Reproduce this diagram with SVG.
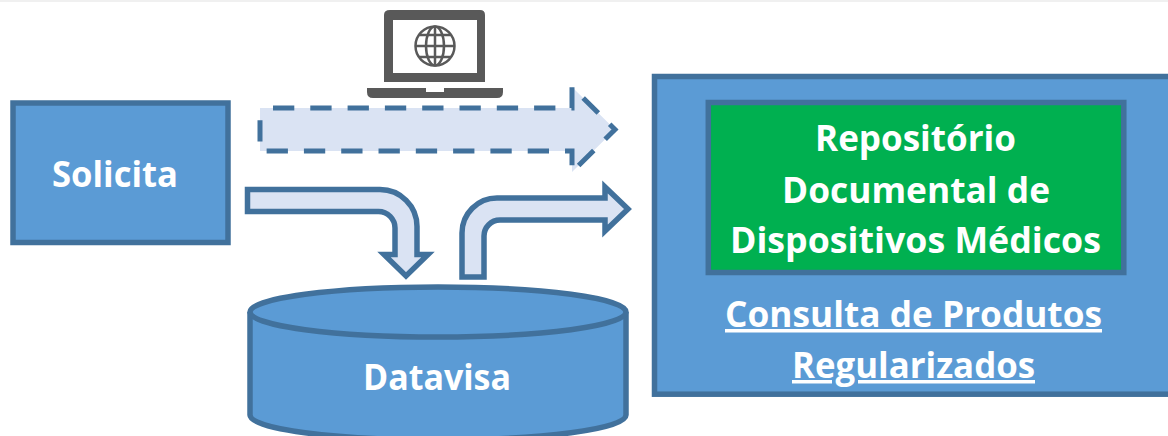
<svg xmlns="http://www.w3.org/2000/svg" width="1168" height="436" viewBox="0 0 1168 436">
<style>
.shape{fill:#5b9bd5;stroke:#41719c;stroke-width:5.500}
.arrow{fill:#dae3f3;stroke:#41719c;stroke-width:5.500;stroke-linejoin:miter}
.label{font-family:"Open Sans","Liberation Sans",sans-serif;font-weight:700;fill:#fff;text-anchor:middle;font-size:35px}
.icon{fill:#595959}
</style>
<rect width="1168" height="436" fill="#fff"/>
<rect width="1168" height="2" fill="#f0f0f0"/>
<g id="connectors">
<path class="arrow" d="M260 108H572V87L615 129.500L572 172V151H260Z" style="stroke-dasharray:21.300 16;stroke-dashoffset:-13;stroke-width:5"/>
<path class="arrow" d="M247.500 189.500H380A37 37 0 0 1 417 226.500V254.500H428L406 276L384 254.500H395V228A16.500 16.500 0 0 0 378.500 211.500H247.500Z"/>
<path class="arrow" d="M462 277V233A35 35 0 0 1 497 198H605V187L628 209L605 231V220H500A16 16 0 0 0 484 236V277Z"/>
</g>
<g id="laptop">
<path class="icon" fill-rule="evenodd" d="M390 10H480Q485 10 485 15V82H384V15Q384 10 390 10ZM393 20V73H477V20Z"/>
<path class="icon" d="M367 88H426V92H444V88H503V92Q503 98 497 98H373Q367 98 367 92Z"/>
<g fill="none" stroke="#595959" stroke-width="2.500">
<circle cx="435" cy="46" r="19.500"/>
<ellipse cx="435" cy="46" rx="9" ry="19.500"/>
<path d="M435 26.500V65.500M415.500 46H454.500M419 35H451M419 57H451"/>
</g>
</g>
<g id="solicita">
<rect class="shape" x="13" y="103" width="215" height="139.500"/>
<text class="label" x="115" y="187" textLength="126" lengthAdjust="spacingAndGlyphs">Solicita</text>
</g>
<g id="datavisa">
<path class="shape" d="M250 312V415C250 429 334 440 438 440S626 429 626 415V312"/>
<ellipse class="shape" cx="438" cy="312" rx="188" ry="25"/>
<text class="label" x="437" y="390" textLength="148" lengthAdjust="spacingAndGlyphs">Datavisa</text>
</g>
<g id="consulta">
<rect class="shape" x="654.500" y="76.500" width="520" height="317.700"/>
<text class="label" x="913.500" y="327" text-decoration="underline" textLength="377" lengthAdjust="spacingAndGlyphs">Consulta de Produtos</text>
<text class="label" x="913.500" y="378" text-decoration="underline" textLength="243" lengthAdjust="spacingAndGlyphs">Regularizados</text>
</g>
<g id="repositorio">
<rect x="708.300" y="102.500" width="415.500" height="170" fill="#00b050" stroke="#41719c" stroke-width="5.500"/>
<text class="label" x="915.500" y="151" textLength="201" lengthAdjust="spacingAndGlyphs">Repositório</text>
<text class="label" x="916" y="203" textLength="268" lengthAdjust="spacingAndGlyphs">Documental de</text>
<text class="label" x="915.500" y="253" textLength="371" lengthAdjust="spacingAndGlyphs">Dispositivos Médicos</text>
</g>
</svg>
